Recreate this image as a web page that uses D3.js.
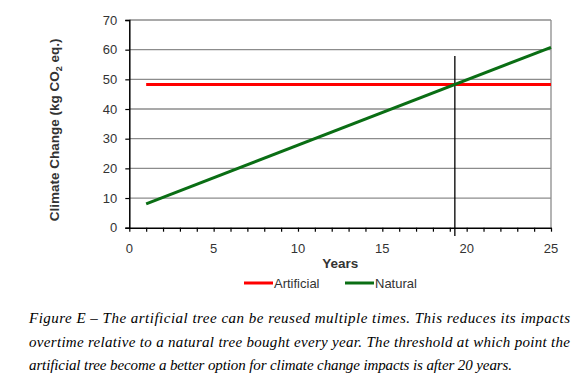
<!DOCTYPE html>
<html>
<head>
<meta charset="utf-8">
<script src="https://cdn.jsdelivr.net/npm/d3@7"></script>
<style>
  body { margin: 0; background: #fff; }
  svg { display: block; }
</style>
</head>
<body>
<div class="container"></div>
<script>
// series (kg CO2 eq. vs years)
var years = [1, 25];
var artificial = [48.3, 48.3];
var natural = [8.0, 60.8];
var threshold = 19.3; // year where the two lines cross
var yTicks = [0, 10, 20, 30, 40, 50, 60, 70];
var xTicks = [0, 5, 10, 15, 20, 25];
var captionLines = [
    "Figure E \u2013 The artificial tree can be reused multiple times. This reduces its impacts",
    "overtime relative to a natural tree bought every year. The threshold at which point the",
    "artificial tree become a better option for climate change impacts is after 20 years."
];

const W = 588, H = 388;
const plotLeft = 129.3, plotRight = 551, plotTop = 20, plotBottom = 227.7;
const labelColor = "#333";

const svg = d3.select('.container').append('svg')
    .attr('width', W)
    .attr('height', H);

const x = d3.scaleLinear().domain([0, 25]).range([plotLeft, plotRight]);
const y = d3.scaleLinear().domain([0, 70]).range([plotBottom, plotTop]);

// gridlines
svg.append('g').selectAll('line').data(yTicks.filter(d => d > 0)).enter().append('line')
    .attr('x1', plotLeft).attr('x2', plotRight)
    .attr('y1', d => y(d)).attr('y2', d => y(d))
    .attr('stroke', '#8c8c8c')
    .attr('stroke-width', 1.3);

// right border of plot area
svg.append('line')
    .attr('x1', plotRight).attr('x2', plotRight)
    .attr('y1', plotTop).attr('y2', plotBottom)
    .attr('stroke', '#8c8c8c')
    .attr('stroke-width', 1.3);

// y axis
const yAxis = svg.append('g')
    .attr('transform', `translate(${plotLeft},0)`)
    .call(d3.axisLeft(y).tickValues(yTicks).tickSize(4).tickPadding(8).tickFormat(d3.format('d')));
yAxis.select('.domain').attr('stroke', '#000').attr('stroke-width', 1.5);
yAxis.selectAll('.tick line').attr('stroke', '#000').attr('stroke-width', 1.2);
yAxis.selectAll('.tick text')
    .attr('font-family', 'Liberation Sans, Arial, sans-serif')
    .attr('font-size', 13)
    .attr('fill', labelColor);

// x axis: minor ticks each year, labels every 5
const xAxis = svg.append('g')
    .attr('transform', `translate(0,${plotBottom})`)
    .call(d3.axisBottom(x).ticks(25).tickSize(4).tickSizeOuter(0).tickFormat(''));
xAxis.select('.domain').attr('stroke', '#000').attr('stroke-width', 1.5);
xAxis.selectAll('.tick line').attr('stroke', '#000').attr('stroke-width', 1.2);

svg.append('g').selectAll('text').data(xTicks).enter().append('text')
    .attr('x', d => x(d))
    .attr('y', 253)
    .attr('text-anchor', 'middle')
    .attr('font-family', 'Liberation Sans, Arial, sans-serif')
    .attr('font-size', 13)
    .attr('fill', labelColor)
    .text(d => d);

// axis titles
svg.append('text')
    .attr('x', x(12.5))
    .attr('y', 268)
    .attr('text-anchor', 'middle')
    .attr('font-family', 'Liberation Sans, Arial, sans-serif')
    .attr('font-size', 13.5)
    .attr('font-weight', 'bold')
    .attr('fill', labelColor)
    .text('Years');

const yTitle = svg.append('text')
    .attr('transform', `translate(59,${(plotTop + plotBottom) / 2 + 6}) rotate(-90)`)
    .attr('text-anchor', 'middle')
    .attr('font-family', 'Liberation Sans, Arial, sans-serif')
    .attr('font-size', 13.5)
    .attr('font-weight', 'bold')
    .attr('fill', labelColor);
yTitle.append('tspan').text('Climate Change (kg CO');
yTitle.append('tspan').attr('font-size', 9).attr('dy', 3).text('2');
yTitle.append('tspan').attr('dy', -3).text(' eq.)');

// threshold marker
svg.append('line')
    .attr('x1', x(threshold)).attr('x2', x(threshold))
    .attr('y1', 56).attr('y2', 236)
    .attr('stroke', '#000')
    .attr('stroke-width', 1.3);

// series
const line = d3.line().x(d => x(d[0])).y(d => y(d[1]));
const series = [
    {name: 'Artificial', values: artificial, color: '#ff0000'},
    {name: 'Natural', values: natural, color: '#0a6e14'}
];
series.forEach(s => {
    svg.append('path')
        .datum(years.map((yr, i) => [yr, s.values[i]]))
        .attr('d', line)
        .attr('fill', 'none')
        .attr('stroke', s.color)
        .attr('stroke-width', 3);
});

// legend
const legendX = [244, 345];
series.forEach((s, i) => {
    const g = svg.append('g').attr('transform', `translate(${legendX[i]},283)`);
    g.append('line')
        .attr('x1', 0).attr('x2', 29)
        .attr('stroke', s.color)
        .attr('stroke-width', 3);
    g.append('text')
        .attr('x', 30)
        .attr('y', 5)
        .attr('font-family', 'Liberation Sans, Arial, sans-serif')
        .attr('font-size', 13)
        .attr('fill', labelColor)
        .text(s.name);
});

// caption (justified lines)
const capWidths = [541, 541, 483];
svg.append('g').selectAll('text').data(captionLines).enter().append('text')
    .attr('x', 29)
    .attr('y', (d, i) => 323 + i * 23.5)
    .attr('font-family', 'Liberation Serif, Times New Roman, serif')
    .attr('font-style', 'italic')
    .attr('font-size', 15)
    .attr('fill', '#000')
    .attr('textLength', (d, i) => capWidths[i])
    .attr('lengthAdjust', 'spacing')
    .text(d => d);
</script>
</body>
</html>
